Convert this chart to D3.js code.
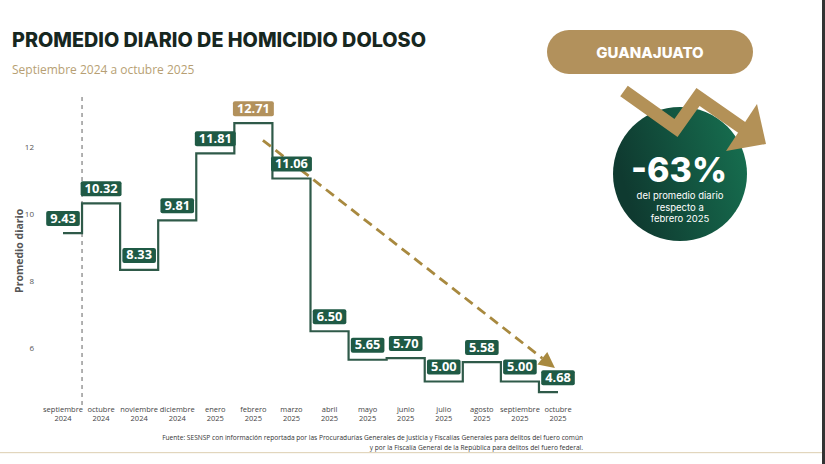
<!DOCTYPE html>
<html>
<head>
<meta charset="utf-8">
<script src="https://cdn.jsdelivr.net/npm/d3@7"></script>
<style>
  body { margin: 0; background: #fff; }
  svg { display: block; }
</style>
</head>
<body>
<div id="chart"></div>
<script>
// data
const months = ["septiembre 2024", "octubre 2024", "noviembre 2024", "diciembre 2024",
  "enero 2025", "febrero 2025", "marzo 2025", "abril 2025", "mayo 2025", "junio 2025",
  "julio 2025", "agosto 2025", "septiembre 2025", "octubre 2025"];
const values = [9.43, 10.32, 8.33, 9.81, 11.81, 12.71, 11.06, 6.50, 5.65, 5.70, 5.00, 5.58, 5.00, 4.68];
const yTicks = [6, 8, 10, 12];
const peakMonth = "febrero 2025";
// trend arrow (month index, value)
const trendFrom = [5.25, 12.2];
const trendTo = [12.92, 5.4];

const W = 825, H = 464;
const green = "#1f5a45", lineGreen = "#2f5a49", gold = "#b2915c";

const svg = d3.select("#chart").append("svg").attr("width", W).attr("height", H);
svg.append("rect").attr("width", W).attr("height", H).attr("fill", "#fff");
// frame edges of the slide capture
svg.append("rect").attr("x", 0).attr("y", 452).attr("width", 822).attr("height", 1.2).attr("fill", "#e2d6bd");
svg.append("rect").attr("x", 822).attr("y", 0).attr("width", 3).attr("height", H).attr("fill", "#333");

// titles
svg.append("text").attr("x", 12).attr("y", 47)
  .text("PROMEDIO DIARIO DE HOMICIDIO DOLOSO")
  .style("font-family", "Inter").style("font-weight", 800).style("font-size", "19.8px")
  .style("fill", "#17271f");
svg.append("text").attr("x", 12).attr("y", 74)
  .text("Septiembre 2024 a octubre 2025")
  .style("font-family", "Open Sans").style("font-size", "12px").style("fill", "#b79f74");

// scales
const x = d3.scalePoint().domain(months).range([63, 558]);
const y = d3.scaleLinear().domain([4, 13]).range([415, 113.5]);
const xi = i => x(months[0]) + i * x.step();

const chart = svg.append("g");

// y axis
const yAxis = chart.append("g").attr("transform", "translate(37,0)")
  .call(d3.axisLeft(y).tickValues(yTicks).tickSize(0).tickPadding(3));
yAxis.select(".domain").remove();
yAxis.selectAll("text").style("font-family", "Open Sans").style("font-size", "8px").style("fill", "#555");

chart.append("text")
  .attr("transform", "translate(23," + y(8.9) + ") rotate(-90)")
  .attr("text-anchor", "middle")
  .text("Promedio diario")
  .style("font-family", "Open Sans").style("font-weight", 700).style("font-size", "10.5px").style("fill", "#555");

// x axis labels
const xAxis = chart.append("g").attr("transform", "translate(0,402)");
months.forEach(m => {
  const parts = m.split(" ");
  const t = xAxis.append("text").attr("text-anchor", "middle")
    .style("font-family", "Open Sans").style("font-size", "7.5px").style("fill", "#444");
  t.append("tspan").attr("x", x(m)).attr("y", 10).text(parts[0]);
  t.append("tspan").attr("x", x(m)).attr("y", 19).text(parts[1]);
});

// separator between first and second month
const sepX = (x(months[0]) + x(months[1])) / 2;
chart.append("line").attr("x1", sepX).attr("x2", sepX).attr("y1", 97).attr("y2", 406)
  .attr("stroke", "#888").attr("stroke-width", 1.3).attr("stroke-dasharray", "4,4");

// step line
const line = d3.line().x((d, i) => x(months[i])).y(d => y(d)).curve(d3.curveStep);
chart.append("path").datum(values).attr("d", line)
  .attr("fill", "none").attr("stroke", lineGreen).attr("stroke-width", 2.2);

// trend arrow
const tx1 = xi(trendFrom[0]), ty1 = y(trendFrom[1]);
const tx2 = xi(trendTo[0]), ty2 = y(trendTo[1]);
const ang = Math.atan2(ty2 - ty1, tx2 - tx1);
const headLen = 16, headW = 8;
const bx = tx2 - headLen * Math.cos(ang), by = ty2 - headLen * Math.sin(ang);
chart.append("line").attr("x1", tx1).attr("y1", ty1).attr("x2", bx).attr("y2", by)
  .attr("stroke", "#a8893f").attr("stroke-width", 2.8).attr("stroke-dasharray", "10,6");
chart.append("path")
  .attr("d", d3.line()([
    [tx2, ty2],
    [bx + headW * Math.sin(ang), by - headW * Math.cos(ang)],
    [bx - headW * Math.sin(ang), by + headW * Math.cos(ang)]
  ]) + "Z")
  .attr("fill", "#a8893f");

// value labels
const labels = chart.append("g");
months.forEach((m, i) => {
  const g = labels.append("g");
  const t = g.append("text").attr("x", x(m)).attr("y", y(values[i]) - 10.5)
    .attr("text-anchor", "middle")
    .text(values[i].toFixed(2))
    .style("font-family", "Open Sans").style("font-weight", 700).style("font-size", "12.8px")
    .style("fill", "#fff");
  const w = t.node().getComputedTextLength() + 8;
  g.insert("rect", "text")
    .attr("x", x(m) - w / 2).attr("y", y(values[i]) - 22)
    .attr("width", w).attr("height", 15).attr("rx", 2)
    .attr("fill", m === peakMonth ? gold : green);
});

// right panel
const panel = svg.append("g");
panel.append("rect").attr("x", 547).attr("y", 30).attr("width", 206).attr("height", 44)
  .attr("rx", 22).attr("fill", gold);
panel.append("text").attr("x", 650).attr("y", 58).attr("text-anchor", "middle")
  .text("GUANAJUATO")
  .style("font-family", "Inter").style("font-weight", 800).style("font-size", "15px").style("fill", "#fff");

const defs = svg.append("defs");
const grad = defs.append("linearGradient").attr("id", "circ").attr("x1", "0%").attr("x2", "100%")
  .attr("y1", "30%").attr("y2", "0%");
grad.append("stop").attr("offset", "0%").attr("stop-color", "#0f3a30");
grad.append("stop").attr("offset", "100%").attr("stop-color", "#177352");
panel.append("circle").attr("cx", 680).attr("cy", 174).attr("r", 67).attr("fill", "url(#circ)");

// zigzag arrow
panel.append("path")
  .attr("d", d3.line()([[624, 91], [676, 128], [698, 97], [744, 129]]))
  .attr("fill", "none").attr("stroke", "#b39157").attr("stroke-width", 13).attr("stroke-linejoin", "miter");
panel.append("path")
  .attr("d", d3.line()([[757, 104], [766, 144], [726, 151]]) + "Z")
  .attr("fill", "#b39157");

panel.append("text").attr("x", 679).attr("y", 182).attr("text-anchor", "middle")
  .text("-63%")
  .style("font-family", "Inter").style("font-weight", 800).style("font-size", "34px").style("fill", "#fff");
["del promedio diario", "respecto a", "febrero 2025"].forEach((s, i) => {
  panel.append("text").attr("x", 680).attr("y", 199 + i * 11.5).attr("text-anchor", "middle")
    .text(s)
    .style("font-family", "Inter").style("font-size", "9.5px").style("fill", "#fff");
});

// source
const src = svg.append("text").attr("text-anchor", "end")
  .style("font-family", "Open Sans").style("font-size", "6.6px").style("fill", "#333");
src.append("tspan").attr("x", 583).attr("y", 440)
  .text("Fuente: SESNSP con información reportada por las Procuradurías Generales de Justicia y Fiscalías Generales para delitos del fuero común");
src.append("tspan").attr("x", 583).attr("y", 450)
  .text("y por la Fiscalía General de la República para delitos del fuero federal.");
</script>
</body>
</html>
